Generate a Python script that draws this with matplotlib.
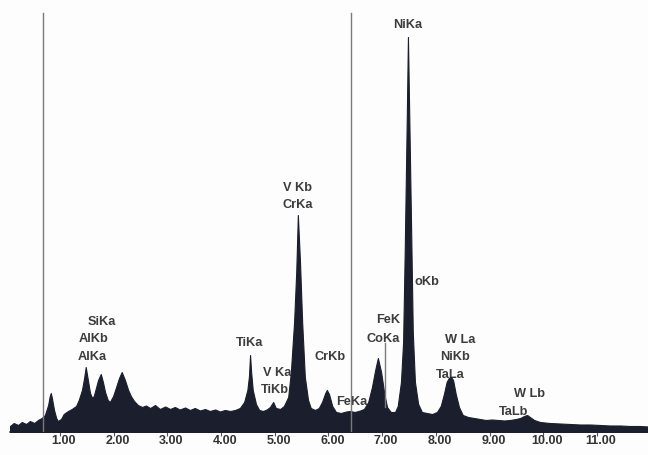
import matplotlib
matplotlib.use("Agg")
import matplotlib.pyplot as plt
import matplotlib.transforms as mtransforms

# Spectrum outline (energy in keV, counts in arbitrary units)
energy = [0.07, 0.14, 0.22, 0.29, 0.37, 0.44, 0.52, 0.59, 0.66, 0.72, 0.78, 0.81, 0.83, 0.85,
          0.89, 0.93, 0.96, 1.02, 1.07, 1.15, 1.22, 1.30, 1.35, 1.41, 1.45, 1.48, 1.52, 1.56,
          1.60, 1.63, 1.67, 1.71, 1.76, 1.80, 1.84, 1.89, 1.93, 1.99, 2.04, 2.10, 2.15, 2.21,
          2.27, 2.32, 2.38, 2.45, 2.53, 2.60, 2.68, 2.77, 2.86, 2.96, 3.05, 3.14, 3.23, 3.33,
          3.42, 3.51, 3.61, 3.70, 3.79, 3.89, 3.98, 4.07, 4.17, 4.26, 4.35, 4.43, 4.49, 4.52,
          4.54, 4.56, 4.59, 4.65, 4.71, 4.78, 4.85, 4.91, 4.97, 5.02, 5.10, 5.17, 5.25, 5.30,
          5.36, 5.40, 5.43, 5.47, 5.51, 5.56, 5.62, 5.67, 5.75, 5.82, 5.88, 5.94, 5.97, 6.01,
          6.07, 6.14, 6.23, 6.33, 6.40, 6.49, 6.59, 6.66, 6.74, 6.81, 6.87, 6.92, 6.98, 7.04,
          7.09, 7.16, 7.24, 7.29, 7.35, 7.39, 7.42, 7.46, 7.48, 7.50, 7.54, 7.57, 7.61, 7.67,
          7.74, 7.83, 7.93, 8.02, 8.09, 8.15, 8.20, 8.24, 8.28, 8.32, 8.37, 8.43, 8.50, 8.60,
          8.71, 8.82, 8.93, 9.04, 9.16, 9.27, 9.38, 9.49, 9.57, 9.64, 9.70, 9.75, 9.83, 9.94,
          10.12, 10.31, 10.50, 10.68, 10.87, 11.06, 11.24, 11.43, 11.61, 11.80, 11.95]
counts = [60, 90, 70, 100, 80, 110, 90, 120, 140, 170, 270, 360, 390, 340,
          220, 140, 110, 130, 180, 210, 230, 260, 320, 420, 540, 650, 520, 390,
          340, 360, 440, 520, 580, 500, 400, 320, 300, 360, 440, 540, 600, 520,
          420, 360, 310, 270, 250, 265, 240, 270, 230, 255, 230, 250, 225, 245,
          220, 240, 215, 230, 210, 225, 205, 220, 210, 220, 240, 300, 420, 560,
          770, 600, 420, 280, 220, 210, 225, 250, 300, 240, 230, 260, 350, 600,
          1100, 1600, 2170, 1700, 1100, 550, 320, 240, 220, 240, 300, 390, 420, 380,
          260, 200, 190, 205, 210, 200, 215, 230, 300, 450, 620, 740, 600, 380,
          250, 200, 200, 260, 500, 900, 1800, 3200, 3950, 3300, 2000, 1000, 500, 280,
          200, 190, 180, 200, 260, 380, 500, 540, 550, 520, 380, 250, 170, 150,
          140, 130, 120, 125, 120, 115, 120, 130, 140, 160, 170, 150, 120, 100,
          90, 85, 80, 75, 75, 70, 65, 65, 60, 60, 55]

# Peak labels
labels = ["NiKa", "V Kb", "CrKa", "oKb", "FeK", "CoKa", "W La", "NiKb", "TaLa",
          "CrKb", "FeKa", "W Lb", "TaLb", "TiKa", "V Ka", "TiKb", "SiKa", "AlKb", "AlKa"]
label_e = [7.48, 5.43, 5.43, 7.61, 7.11, 7.01, 8.45, 8.36, 8.26,
           6.03, 6.44, 9.75, 9.44, 4.54, 5.04, 5.00, 1.78, 1.63, 1.61]
label_c = [4070, 2440, 2270, 1500, 1120, 930, 920, 750, 570,
           750, 300, 380, 200, 890, 590, 420, 1100, 930, 750]
label_ha = ["center", "center", "center", "left", "center", "center", "center", "center", "center",
            "center", "center", "center", "center", "center", "center", "center", "center", "center", "center"]

# Marker (cursor) lines: energy, lower and upper count
marker_e = [0.68, 6.42, 7.05]
marker_lo = [0, 0, 250]
marker_hi = [4190, 4190, 890]

tick_vals = [1, 2, 3, 4, 5, 6, 7, 8, 9, 10, 11]
tick_labels = ["1.00", "2.00", "3.00", "4.00", "5.00", "6.00", "7.00", "8.00", "9.00", "10.00", "11.00"]

fig = plt.figure(figsize=(6.48, 4.55), dpi=100)
fig.patch.set_facecolor("#fdfdfd")
ax = fig.add_axes([10 / 648, 23 / 455, 638 / 648, 432 / 455])
ax.set_facecolor("#fdfdfd")

ax.fill_between(energy, 0, counts, color="#1b1e2c", lw=0.8, edgecolor="#1b1e2c", zorder=3)

for e, lo, hi in zip(marker_e, marker_lo, marker_hi):
    ax.plot([e, e], [lo, hi], color="#7a7a7a", lw=1.0, zorder=4)

for t, e, c, ha in zip(labels, label_e, label_c, label_ha):
    ax.text(e, c, t, ha=ha, va="center", fontsize=9.2, fontweight="bold",
            family=["Liberation Sans", "DejaVu Sans"], color="#3c3c3c", zorder=2)

ax.set_xlim(0.07, 11.95)
ax.set_ylim(0, 4320)
for s in ["top", "right", "left"]:
    ax.spines[s].set_visible(False)
ax.spines["bottom"].set_color("#555555")
ax.spines["bottom"].set_linewidth(1.2)
ax.set_yticks([])
ax.set_xticks(tick_vals)
ax.set_xticklabels(tick_labels, fontsize=9, fontweight="bold",
                   family=["Liberation Sans", "DejaVu Sans"], color="#333333")
ax.tick_params(axis="x", length=3, width=0.8, color="#555555", pad=0.5)
offset = mtransforms.ScaledTranslation(4 / 100, 1.5 / 100, fig.dpi_scale_trans)
for lab in ax.get_xticklabels():
    lab.set_transform(lab.get_transform() + offset)

fig.savefig("out.png", dpi=100, facecolor=fig.get_facecolor())
